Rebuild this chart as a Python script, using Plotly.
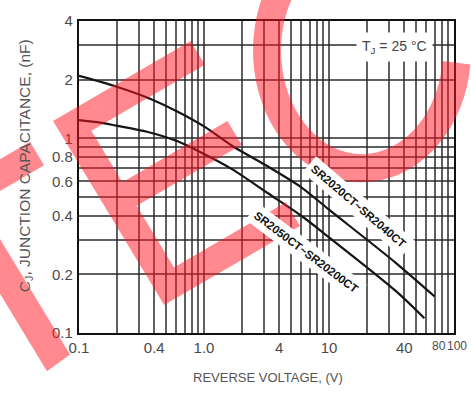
import math
import plotly.graph_objects as go

# ---------------- data ----------------
upper_name = "SR2020CT~SR2040CT"
upper_v = [0.1, 0.2, 0.35, 0.6, 1.0, 1.7, 3.2, 6.0, 10.0, 34.0, 70.0]
upper_c = [2.09, 1.84, 1.62, 1.38, 1.15, 0.91, 0.72, 0.56, 0.43, 0.23, 0.154]

lower_name = "SR2050CT~SR20200CT"
lower_v = [0.1, 0.14, 0.2, 0.35, 0.6, 1.0, 1.7, 3.2, 6.0, 10.0, 34.0, 58.0]
lower_c = [1.24, 1.21, 1.16, 1.08, 0.97, 0.83, 0.69, 0.525, 0.40, 0.31, 0.165, 0.119]

x_tick_vals = [0.1, 0.2, 0.3, 0.4, 0.5, 0.6, 0.7, 0.8, 0.9,
               1, 2, 3, 4, 5, 6, 7, 8, 9,
               10, 20, 30, 40, 50, 60, 70, 80, 90, 100]
x_tick_text = ["0.1", "", "", "0.4", "", "", "", "", "",
               "1.0", "", "", "4", "", "", "", "", "",
               "10", "", "", "40", "", "", "", "", "", ""]
x_end_labels = ["80", "100"]   # squeezed together at the right end, as in the original

y_tick_vals = [0.1, 0.2, 0.3, 0.4, 0.5, 0.6, 0.7, 0.8, 0.9, 1, 2, 3, 4]
y_tick_text = ["0.1", "0.2", "", "0.4", "", "0.6", "", "0.8", "", "1", "2", "", "4"]

x_title = "REVERSE VOLTAGE, (V)"
y_title = "C<sub>J</sub>, JUNCTION CAPACITANCE, (nF)"
temp_note = "T<sub>J</sub> = 25 °C"

# ---------------- layout geometry ----------------
W, H = 471, 394
L, R, T, B = 79, 454, 15, 333   # plot area in pixels


def px(x):
    return (x - L) / (R - L)


def py(y):
    return (B - y) / (B - T)


fig = go.Figure()
for v, c, name in [(upper_v, upper_c, upper_name), (lower_v, lower_c, lower_name)]:
    fig.add_trace(go.Scatter(
        x=v, y=c, mode="lines", name=name,
        line=dict(color="#151515", width=2.2, shape="spline", smoothing=0.8),
        showlegend=False, hoverinfo="skip"))

grid_col = "rgba(35,35,35,0.72)"
tick_font = dict(family="Liberation Sans, Arial, sans-serif", size=15, color="#4a4a4a")

fig.update_xaxes(
    type="log", range=[-1, 2], tickmode="array",
    tickvals=x_tick_vals, ticktext=x_tick_text, tickangle=0,
    showgrid=True, gridcolor=grid_col, gridwidth=1.6,
    showline=True, linecolor="#111", linewidth=2.2, mirror=True,
    ticks="", tickfont=tick_font, zeroline=False)
fig.update_yaxes(
    type="log", range=[-1, math.log10(4)], tickmode="array",
    tickvals=y_tick_vals, ticktext=y_tick_text,
    showgrid=True, gridcolor=grid_col, gridwidth=1.6,
    showline=True, linecolor="#111", linewidth=2.2, mirror=True,
    ticks="", tickfont=tick_font, zeroline=False, ticklabelstandoff=1)

# ---------------- red watermark (decoration) ----------------
wm = "rgba(255,20,30,0.5)"


def poly_path(points):
    return "M " + " L ".join(f"{px(x):.4f},{py(y):.4f}" for x, y in points) + " Z"


shapes = []
# left letter pieces
shapes.append(dict(type="path", path=poly_path([(-12, 217), (70, 355), (47, 372), (-35, 234)])))
shapes.append(dict(type="path", path=poly_path([(-22, 169), (30, 138), (44, 162), (-8, 193)])))
# letter E
P0 = (53, 117)
u = (0.86, -0.51)
n = (0.51, 0.86)
e_outline = [(0, 0), (160, 0), (160, 28), (28, 28), (28, 89), (150, 89), (150, 117),
             (28, 117), (28, 190), (158, 190), (158, 218), (0, 218)]
e_pts = [(P0[0] + s * u[0] + t * n[0], P0[1] + s * u[1] + t * n[1]) for s, t in e_outline]
shapes.append(dict(type="path", path=poly_path(e_pts)))
for sh in shapes:
    sh.update(xref="paper", yref="paper", fillcolor=wm, line=dict(width=0), layer="above")

# letter C as a thick arc
cx, cy, rx, ry = 362, 45, 95, 120
arc = []
for k in range(0, 65):
    th = math.radians(6 + k * 5)
    arc.append((cx + rx * math.cos(th), cy + ry * math.sin(th)))
arc_path = "M " + " L ".join(f"{px(x):.4f},{py(y):.4f}" for x, y in arc)
shapes.append(dict(type="path", path=arc_path, xref="paper", yref="paper",
                   line=dict(color=wm, width=28), fillcolor="rgba(0,0,0,0)", layer="above"))

# ---------------- annotations ----------------
base = dict(xref="paper", yref="paper", showarrow=False, xanchor="center", yanchor="middle")
end_font = dict(family="Liberation Sans, Arial, sans-serif", size=12, color="#4a4a4a")
ann = []
ann.append(dict(base, text=x_title, x=px(268), y=py(378),
                font=dict(family="Liberation Sans, Arial", size=13, color="#555")))
ann.append(dict(base, text=y_title, x=px(25), y=py(163), textangle=-90,
                font=dict(family="Liberation Sans, Arial", size=15.5, color="#555")))
ann.append(dict(base, text=x_end_labels[0], x=px(447), y=py(346), xanchor="right",
                borderpad=0, font=end_font))
ann.append(dict(base, text=x_end_labels[1], x=px(446), y=py(346), xanchor="left",
                borderpad=0, font=end_font))
ann.append(dict(base, text=temp_note, x=px(394), y=py(42), bgcolor="white", borderpad=5,
                font=dict(family="Liberation Sans, Arial", size=14, color="#444")))
ann.append(dict(base, text=f"<b>{upper_name}</b>", x=px(358), y=py(204),
                textangle=40.5, bgcolor="white", borderpad=4,
                font=dict(family="Liberation Sans, Arial", size=11.5, color="#111")))
ann.append(dict(base, text=f"<b>{lower_name}</b>", x=px(306), y=py(250),
                textangle=37, bgcolor="white", borderpad=4,
                font=dict(family="Liberation Sans, Arial", size=11.5, color="#111")))

fig.update_layout(
    width=W, height=H, autosize=False,
    margin=dict(l=L, r=W - R, t=T, b=H - B, pad=0),
    paper_bgcolor="white", plot_bgcolor="white",
    shapes=shapes, annotations=ann, showlegend=False)

fig.write_html("out.html", config={"displayModeBar": False},
               post_script="document.body.style.margin='0px';")
